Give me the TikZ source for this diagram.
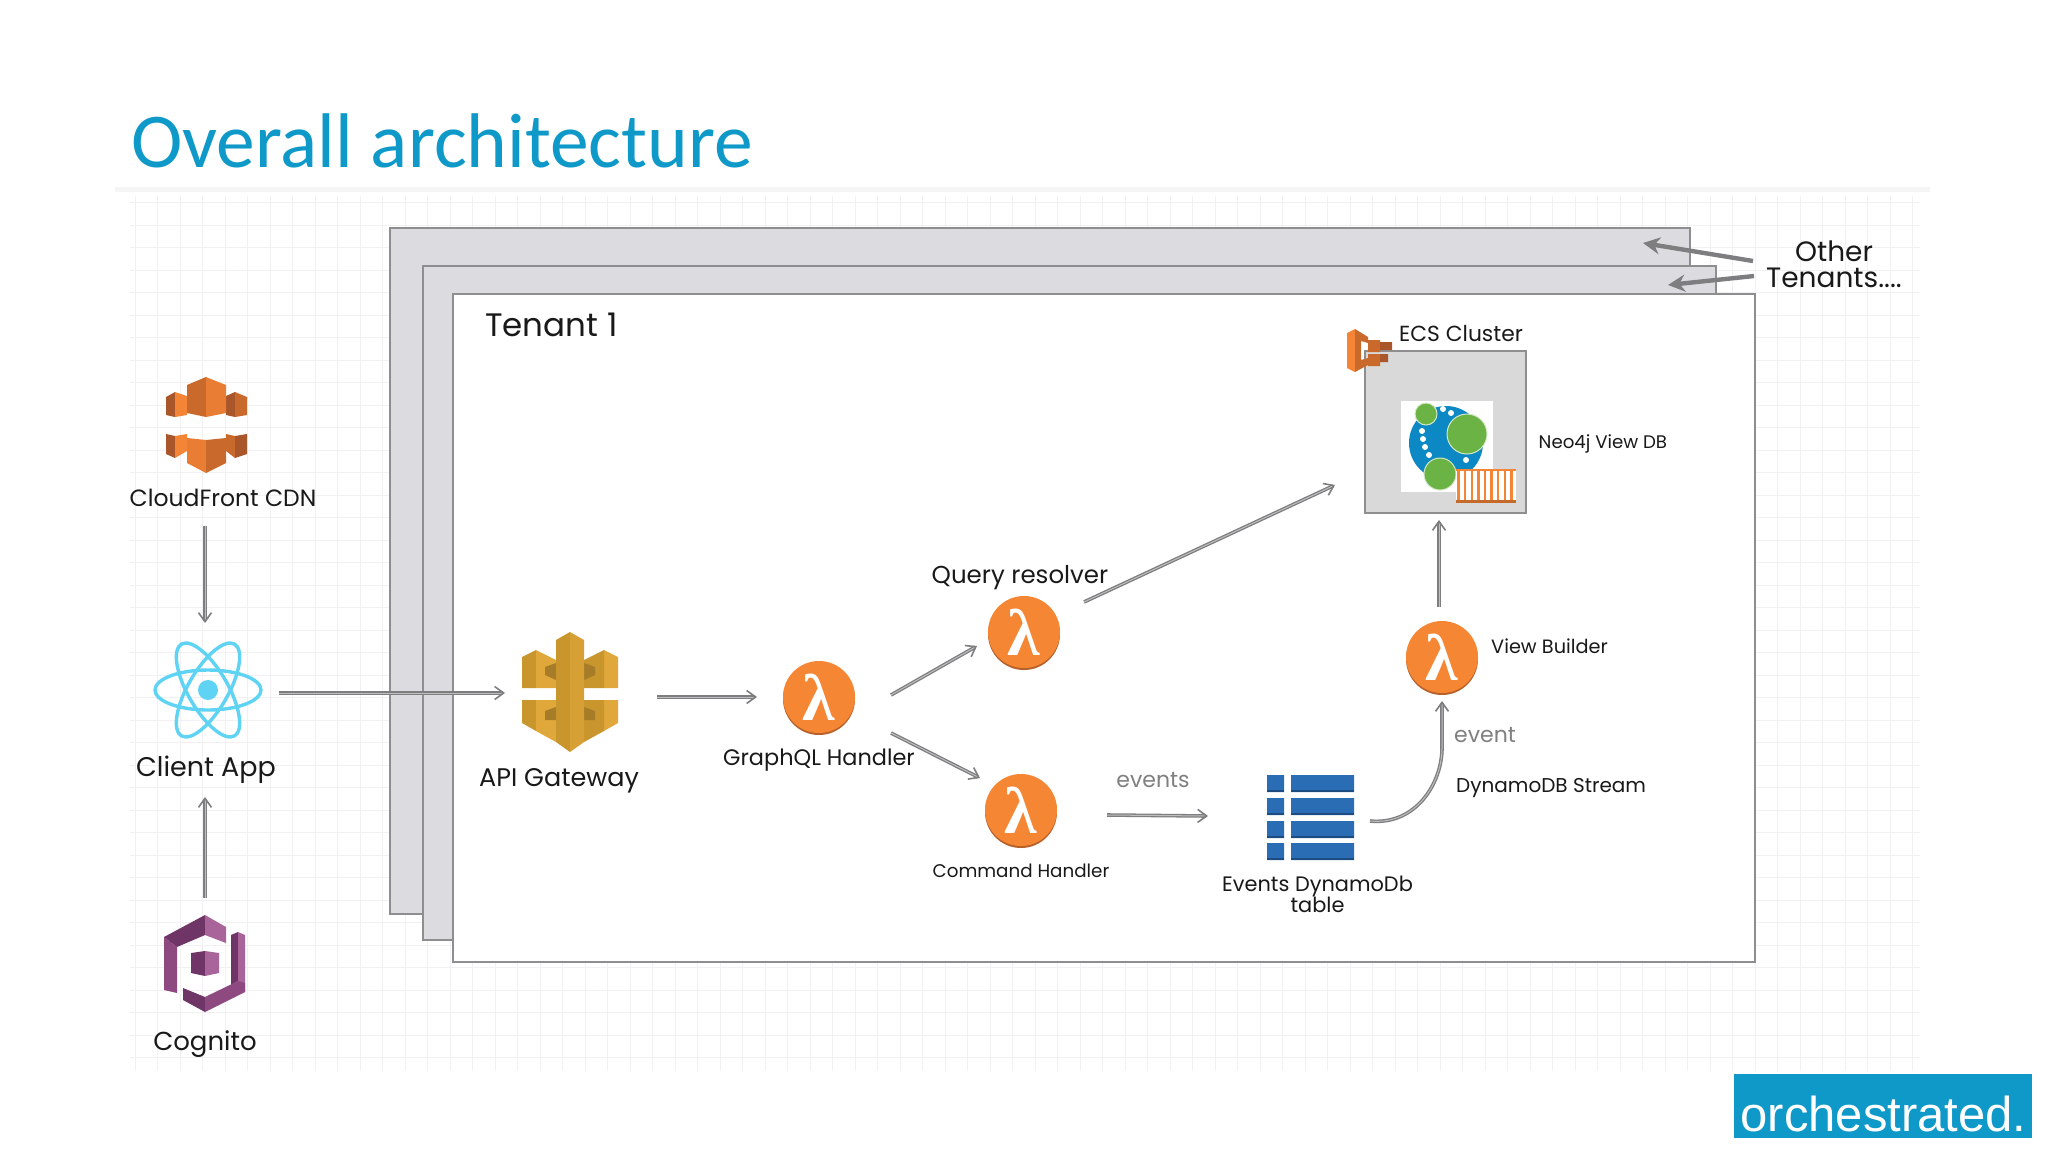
\documentclass[tikz,border=0pt]{standalone}
\usepackage{fontspec}
\usepackage{xcolor}
\usetikzlibrary{arrows.meta}
\usetikzlibrary{calc}
\setmainfont{Poppins}
\newfontfamily\titlefont{Carlito}
\newfontfamily\logofont{Liberation Sans}
\newfontfamily\lambdafont{Liberation Serif}
\definecolor{brandblue}{HTML}{0F99C8}
\definecolor{framegray}{HTML}{8E8E90}
\definecolor{framefill}{HTML}{DCDCE0}
\definecolor{linegray}{HTML}{7E7E80}
\definecolor{gridtint}{HTML}{F3F0F4}
\definecolor{lambdaorange}{HTML}{F58634}
\definecolor{lambdadark}{HTML}{B8602A}
\definecolor{cdnlight}{HTML}{F58536}
\definecolor{cdnmid}{HTML}{C9692B}
\definecolor{cdndark}{HTML}{A8562A}
\definecolor{cogdark}{HTML}{6F3566}
\definecolor{cogmid}{HTML}{8E4A80}
\definecolor{coglight}{HTML}{A9659A}
\definecolor{gatelight}{HTML}{E0A83A}
\definecolor{gatemid}{HTML}{C9952D}
\definecolor{gatedark}{HTML}{A67C28}
\definecolor{reactblue}{HTML}{5FD3F3}
\definecolor{tableblue}{HTML}{2A6DB5}
\definecolor{tabledark}{HTML}{1C4C80}
\definecolor{neoblue}{HTML}{0C88C4}
\definecolor{neogreen}{HTML}{6BB344}

\begin{document}
\begin{tikzpicture}[x=1pt, y=-1pt,
	label/.style={font=\fontsize{20}{21}\selectfont, text=black!90, inner sep=0pt},
	note/.style={font=\fontsize{22}{23}\selectfont, text=black!50, inner sep=0pt},
	frame/.style={rectangle, draw=framegray, line width=1.6pt, fill=framefill, inner sep=0pt, outer sep=0pt},
	icon/.style={rectangle, inner sep=0pt, outer sep=0pt},
	lambda/.style={circle, fill=lambdaorange, minimum size=72pt, inner sep=0pt, outer sep=0pt, text=white,
		font=\lambdafont\bfseries\fontsize{66}{66}\selectfont, preaction={fill=lambdadark, transform canvas={yshift=-2pt}}},
	line/.style={draw=linegray, line width=1.3pt, double=linegray!50, double distance=1pt, -{Straight Barb[length=9pt, width=13pt, line width=1.6pt]}},
	fat/.style={draw=linegray, line width=4.4pt, -{Stealth[length=17pt, width=17pt]}}]
	\useasboundingbox (0,0) rectangle (2048,1152);
	\fill[white] (0,0) rectangle (2048,1152);
	\fill[black!4] (115,187) rectangle (1930,192);
	\draw[gridtint, line width=1pt, y=1pt, step=22.5] (130,-196) grid (1920,-1071);
	\node[anchor=base west, inner sep=0pt, text=brandblue, font=\titlefont\fontsize{77.5}{78}\selectfont] (Title) at (131,167) {Overall architecture};
	\node[frame, minimum width=1300pt, minimum height=686pt] (Tenant3) at (1040,571) {};
	\node[frame, minimum width=1293pt, minimum height=674pt] (Tenant2) at (1069.5,603) {};
	\node[frame, fill=white, minimum width=1302pt, minimum height=668pt] (Tenant1) at (1104,628) {};
	\node[label, anchor=west, font=\fontsize{32.5}{33}\selectfont] (TenantLabel) at ($(Tenant1.north west)+(32,31)$) {Tenant 1};

	\node[icon, minimum width=85pt, minimum height=97pt] (CDN) at (205,424) {};
	\node[icon, minimum width=107pt, minimum height=98pt] (Client) at (208,690) {};
	\node[icon, minimum width=85pt, minimum height=99pt] (Cognito) at (205,964) {};
	\node[icon, minimum width=102pt, minimum height=119pt] (Gateway) at (571,692) {};
	\node[lambda] (GraphQL) at (819,697) {λ};
	\node[lambda] (Query) at (1024,632) {λ};
	\node[lambda] (Command) at (1021,810) {λ};
	\node[lambda] (View) at (1442,657) {λ};
	\node[icon, minimum width=87pt, minimum height=87pt] (Table) at (1310.5,817.5) {};
	\node[frame, fill=black!15, minimum width=161pt, minimum height=162pt] (ECS) at (1445.5,432) {};

	\node[label, font=\fontsize{23.5}{24}\selectfont] (CDNLabel) at ($(CDN)+(18,74)$) {CloudFront CDN};
	\node[label, font=\fontsize{27}{28}\selectfont] (ClientLabel) at ($(Client)+(-2,80)$) {Client App};
	\node[label, font=\fontsize{26}{27}\selectfont] (CognitoLabel) at ($(Cognito)+(0,80)$) {Cognito};
	\node[label, font=\fontsize{25.5}{26}\selectfont] (GatewayLabel) at ($(Gateway)+(-12,89)$) {API Gateway};
	\node[label, font=\fontsize{22.4}{23}\selectfont] (GraphQLLabel) at ($(GraphQL)+(0,63)$) {GraphQL Handler};
	\node[label, font=\fontsize{24.5}{25}\selectfont] (QueryLabel) at ($(Query)+(-4,-54)$) {Query resolver};
	\node[label, font=\fontsize{18.3}{19}\selectfont] (CommandLabel) at ($(Command)+(0,61)$) {Command Handler};
	\node[label, anchor=west, font=\fontsize{19.3}{20}\selectfont] (ViewLabel) at ($(View)+(49,-11)$) {View Builder};
	\node[label, anchor=west, font=\fontsize{21.8}{22}\selectfont] (ECSLabel) at ($(ECS.north west)+(34,-17)$) {ECS Cluster};
	\node[label, anchor=west, font=\fontsize{18.2}{19}\selectfont] (NeoLabel) at ($(ECS)+(93,12)$) {Neo4j View DB};
	\node[label, align=center, font=\fontsize{20.9}{21}\selectfont] (TableLabel) at ($(Table)+(7,77)$) {Events DynamoDb\\table};
	\node[label, anchor=west, font=\fontsize{20}{21}\selectfont] (StreamLabel) at ($(View)+(14,131)$) {DynamoDB Stream};
	\node[note] (EventsLabel) at ($(Command)+(132,-30)$) {events};
	\node[note] (EventLabel) at ($(View)+(43,78)$) {event};
	\node[label, align=center, font=\fontsize{28}{26}\selectfont] (Other) at (1834,264) {Other\\Tenants....};

	\fill[cdndark] (166,397) -- (175,392) -- (175,417) -- (166,415) -- cycle;
	\fill[cdnlight] (175,392) -- (187,396) -- (187,415) -- (175,417) -- cycle;
	\fill[cdndark] (226,396) -- (235,392) -- (235,417) -- (226,415) -- cycle;
	\fill[cdnmid] (235,392) -- (247,397) -- (247,415) -- (235,417) -- cycle;
	\fill[cdnmid] (187,385) -- (206,377) -- (206,417) -- (187,413) -- cycle;
	\fill[cdnlight!70!cdnmid] (226,385) -- (206,377) -- (206,417) -- (226,413) -- cycle;
	\fill[cdndark] (166,434) -- (175,436) -- (175,458) -- (166,454) -- cycle;
	\fill[cdnlight] (175,436) -- (187,434) -- (187,451) -- (175,458) -- cycle;
	\fill[cdnmid] (226,434) -- (235,436) -- (235,458) -- (226,451) -- cycle;
	\fill[cdndark] (235,436) -- (247,434) -- (247,454) -- (235,458) -- cycle;
	\fill[cdnlight!70!cdnmid] (187,438) -- (206,440) -- (206,473) -- (187,463) -- cycle;
	\fill[cdnmid] (226,438) -- (206,440) -- (206,473) -- (226,463) -- cycle;

	\draw[reactblue, line width=3.4pt] (Client) ellipse [x radius=53, y radius=20];
	\draw[reactblue, line width=3.4pt, rotate around={60:(Client)}] (Client) ellipse [x radius=53, y radius=20];
	\draw[reactblue, line width=3.4pt, rotate around={120:(Client)}] (Client) ellipse [x radius=53, y radius=20];
	\fill[reactblue] (Client) circle (10);

	\fill[cogmid] (164,937) -- (177,947) -- (177,993) -- (164,990) -- cycle;
	\fill[cogdark] (164,937) -- (205,915) -- (205,935) -- (177,947) -- cycle;
	\fill[coglight] (205,915) -- (226,927) -- (226,943) -- (205,935) -- cycle;
	\fill[cogdark] (191,953) -- (205,951) -- (205,976) -- (191,973) -- cycle;
	\fill[coglight] (205,951) -- (219,953) -- (219,973) -- (205,976) -- cycle;
	\fill[cogdark] (231,935) -- (238,932) -- (238,981) -- (231,985) -- cycle;
	\fill[coglight] (238,932) -- (245,935) -- (245,992) -- (238,981) -- cycle;
	\fill[cogdark] (183,988) -- (205,997) -- (205,1012) -- (183,1000) -- cycle;
	\fill[cogmid] (205,997) -- (238,981) -- (245,983) -- (245,992) -- (205,1012) -- cycle;

	\fill[gatemid] (522,657) -- (536,650) -- (536,688) -- (522,688) -- cycle;
	\fill[gatelight] (536,650) -- (556,660) -- (556,688) -- (536,688) -- cycle;
	\fill[gatedark] (545,667) -- (556,663) -- (556,680) -- (545,675) -- cycle;
	\fill[gatemid] (522,700) -- (536,700) -- (536,731) -- (522,723) -- cycle;
	\fill[gatelight] (536,700) -- (556,700) -- (556,742) -- (536,731) -- cycle;
	\fill[gatedark] (545,711) -- (556,707) -- (556,720) -- (545,720) -- cycle;
	\fill[gatelight] (618,657) -- (604,650) -- (604,688) -- (618,688) -- cycle;
	\fill[gatemid] (604,650) -- (584,660) -- (584,688) -- (604,688) -- cycle;
	\fill[gatedark] (595,667) -- (584,663) -- (584,680) -- (595,675) -- cycle;
	\fill[gatelight] (618,700) -- (604,700) -- (604,731) -- (618,723) -- cycle;
	\fill[gatemid] (604,700) -- (584,700) -- (584,742) -- (604,731) -- cycle;
	\fill[gatedark] (595,711) -- (584,707) -- (584,720) -- (595,720) -- cycle;
	\fill[gatemid] (556,640) -- (570,632) -- (570,752) -- (556,742) -- cycle;
	\fill[gatelight!60!gatemid] (584,640) -- (570,632) -- (570,752) -- (584,742) -- cycle;

	\fill[tableblue] (1267,775) rectangle (1284,792) (1291,775) rectangle (1354,792);
	\fill[tableblue] (1267,798) rectangle (1284,815) (1291,798) rectangle (1354,815);
	\fill[tableblue] (1267,821) rectangle (1284,838) (1291,821) rectangle (1354,838);
	\fill[tableblue] (1267,843) rectangle (1284,860) (1291,843) rectangle (1354,860);
	\foreach \rowy in {791,814,837,859}
		\draw[tabledark, line width=2pt] (1267,\rowy) -- (1284,\rowy) (1291,\rowy) -- (1354,\rowy);

	\fill[cdnlight] (1347,333) -- (1355,329) -- (1355,372) -- (1347,368) -- cycle;
	\fill[cdnmid] (1355,329) -- (1368,337) -- (1368,343) -- (1361,341) -- (1361,360) -- (1368,358) -- (1368,365) -- (1355,372) -- cycle;
	\fill[cdnmid] (1368,340) rectangle (1380,352) (1368,354) rectangle (1380,366);
	\fill[cdndark] (1380,342) rectangle (1392,350) (1380,354) rectangle (1388,362);

	\fill[white] (1401,401) rectangle (1493,492);
	\fill[neoblue] (1446,443) circle (37);
	\filldraw[fill=neogreen, draw=neogreen!30!white, line width=1pt] (1426,414) circle (11) (1467,434) circle (20) (1440,474) circle (16);
	\fill[white] (1443,409) circle (3) (1451,413) circle (3) (1422,431) circle (3) (1423,439) circle (3) (1425,447) circle (3) (1429,455) circle (3) (1466,460) circle (3);
	\fill[white] (1456,469) rectangle (1516,500);
	\draw[cdnlight, line width=2.4pt, xstep=6.6, ystep=1000] (1457,470) grid (1516,500);
	\draw[cdnlight, line width=1.4pt] (1456,470) -- (1516,470);
	\draw[cdnlight!80!black, line width=3pt] (1456,501) -- (1516,501);

	\draw[line] ($(CDN.south)+(0,53)$) -- ($(Client.north)+(-3,-18)$);
	\draw[line] ($(Cognito.north)+(0,-17)$) -- ($(Client.south)+(-3,58)$);
	\draw[line] ($(Client.east)+(17,3)$) -- ($(Gateway.west)+(-15,1)$);
	\draw[line] ($(Gateway.east)+(35,5)$) -- ($(GraphQL.west)+(-26,0)$);
	\draw[line] ($(GraphQL.east)+(36,-2)$) -- ($(Query.west)+(-11,14)$);
	\draw[line] ($(GraphQL.east)+(36,36)$) -- ($(Command.west)+(-5,-32)$);
	\draw[line] ($(Query.east)+(24,-30)$) -- ($(ECS.west)+(-30,53)$);
	\draw[line] ($(Command.east)+(50,5)$) -- ($(Table.west)+(-59,-1.5)$);
	\draw[line] ($(Table.east)+(16,3.5)$) .. controls ($(Table.east)+(62,8)$) and ($(View.south)+(0,90)$) .. ($(View.south)+(0,55)$) -- ($(View.south)+(0,8)$);
	\draw[line] ($(View.north)+(-3,-14)$) -- ($(ECS.south)+(-6.5,7)$);
	\draw[fat] ($(Other)+(-81,-3)$) -- ($(Tenant3.north east)+(-47,15)$);
	\draw[fat] ($(Other)+(-80,12)$) -- ($(Tenant2.north east)+(-48,19)$);

	\node[rectangle, fill=brandblue, minimum width=298pt, minimum height=64pt, inner sep=0pt] (LogoBox) at (1883,1106) {};
	\node[anchor=base, inner sep=0pt, text=white, font=\logofont\fontsize{49}{49}\selectfont] (Logo) at (1883.5,1131) {orchestrated.};
\end{tikzpicture}
\end{document}
